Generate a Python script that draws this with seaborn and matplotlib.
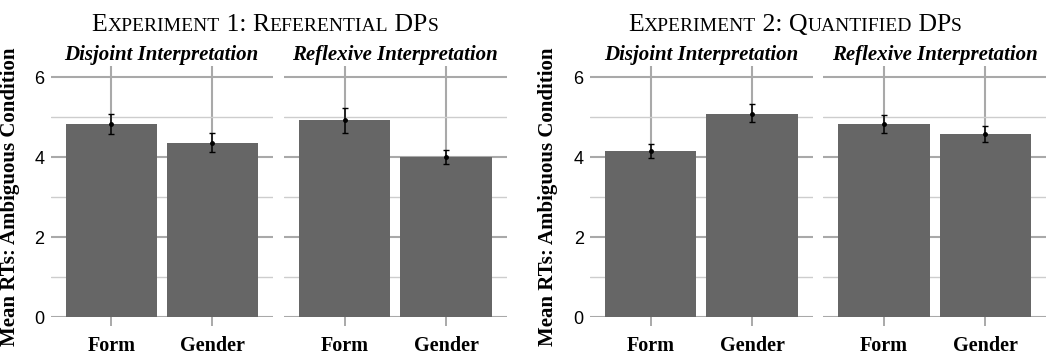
import numpy as np
import pandas as pd
import matplotlib
matplotlib.use('Agg')
import matplotlib.pyplot as plt
from matplotlib.ticker import MultipleLocator
import seaborn as sns

# values
cues = ['Form', 'Gender']
interpretations = ['Disjoint Interpretation', 'Reflexive Interpretation']
experiments = ['Experiment 1', 'Experiment 2']
# means per experiment, interpretation, cue
exp1_disjoint = [4.82, 4.36]
exp1_reflexive = [4.92, 4.01]
exp2_disjoint = [4.15, 5.08]
exp2_reflexive = [4.82, 4.57]
# error bar ends
exp1_disjoint_lo = [4.57, 4.13]
exp1_disjoint_hi = [5.08, 4.60]
exp1_reflexive_lo = [4.61, 3.82]
exp1_reflexive_hi = [5.23, 4.19]
exp2_disjoint_lo = [3.98, 4.87]
exp2_disjoint_hi = [4.32, 5.32]
exp2_reflexive_lo = [4.61, 4.37]
exp2_reflexive_hi = [5.05, 4.79]
yticks_major = [0, 2, 4, 6]

rows = []
for exp, interp, means, lo, hi in [
        (experiments[0], interpretations[0], exp1_disjoint, exp1_disjoint_lo, exp1_disjoint_hi),
        (experiments[0], interpretations[1], exp1_reflexive, exp1_reflexive_lo, exp1_reflexive_hi),
        (experiments[1], interpretations[0], exp2_disjoint, exp2_disjoint_lo, exp2_disjoint_hi),
        (experiments[1], interpretations[1], exp2_reflexive, exp2_reflexive_lo, exp2_reflexive_hi)]:
  for c, m, l, h in zip(cues, means, lo, hi):
    rows.append({'experiment': exp, 'interp': interp, 'cue': c, 'rt': m, 'lo': l, 'hi': h})
df = pd.DataFrame(rows)

sns.set_style('white')
grid_major = '#a9a9a9'
grid_minor = '#cdcdcd'
plt.rcParams['font.family'] = ['Liberation Serif', 'DejaVu Serif']
plt.rcParams['text.color'] = 'black'
plt.rcParams['xtick.color'] = grid_major
plt.rcParams['xtick.labelcolor'] = 'black'
plt.rcParams['ytick.color'] = 'black'
plt.rcParams['xtick.bottom'] = True
plt.rcParams['xtick.major.size'] = 6.5
plt.rcParams['xtick.major.width'] = 1.4
plt.rcParams['xtick.major.pad'] = 7

W, H = 1050, 357
fig = plt.figure(figsize=(W / 100, H / 100), dpi=100)

# panel boxes in pixels (left, right)
panel_px = [(50.7, 272.7), (284, 506.7), (590, 812.7), (823.3, 1046)]
top_px, bottom_px = 66, 317.3

k = 0
for e, exp in enumerate(experiments):
  for i, interp in enumerate(interpretations):
    l, r = panel_px[k]
    ax = fig.add_axes([l / W, 1 - bottom_px / H, (r - l) / W, (bottom_px - top_px) / H])
    sub = df[(df['experiment'] == exp) & (df['interp'] == interp)]
    sns.barplot(data=sub, x='cue', y='rt', order=cues, color='#666666', saturation=1,
                errorbar=None, width=0.9, linewidth=0, ax=ax, zorder=2)
    xs = np.arange(len(cues))
    ax.errorbar(xs, sub['rt'].values,
                yerr=[sub['rt'].values - sub['lo'].values, sub['hi'].values - sub['rt'].values],
                fmt='o', ms=2.5, color='black', ecolor='black', elinewidth=1.1,
                capsize=2, capthick=1.0, zorder=4)
    ax.set_xlim(-0.6, 1.6)
    ax.set_ylim(0, 6.28)
    ax.set_yticks(yticks_major)
    ax.yaxis.set_minor_locator(MultipleLocator(1))
    ax.set_axisbelow(True)
    ax.grid(which='major', axis='y', color=grid_major, lw=1.5)
    ax.grid(which='minor', axis='y', color=grid_minor, lw=1.0)
    ax.grid(which='major', axis='x', color=grid_major, lw=1.5)
    for s in ax.spines.values():
      s.set_visible(False)
    ax.set_xlabel('')
    ax.set_ylabel('')
    ax.tick_params(axis='x', which='major', bottom=True, length=6.5, width=1.4, color=grid_major,
                   labelcolor='black', pad=7, labelsize=14.5)
    for t in ax.get_xticklabels():
      t.set_fontweight('bold')
    ax.tick_params(axis='y', which='both', left=False, length=0, pad=4.5, labelcolor='black')
    if i == 0:
      for t in ax.get_yticklabels():
        t.set_fontfamily('Liberation Sans')
        t.set_fontsize(13)
    else:
      ax.tick_params(axis='y', labelleft=False)
    ax.set_title(interp, fontsize=15, fontweight='bold', fontstyle='italic', pad=4, color='black')
    k += 1

# y labels
for xpx in [10, 548]:
  fig.text(xpx / W, 1 - 197 / H, 'Mean RTs: Ambiguous Condition', rotation=90,
           ha='center', va='center', fontsize=15, fontweight='bold')

# small caps titles
def small_caps(pieces, cx, base_y):
  renderer = fig.canvas.get_renderer()
  texts = []
  for s, size in pieces:
    t = fig.text(0, base_y / H, s, fontsize=size, va='baseline', ha='left')
    texts.append(t)
  widths = [t.get_window_extent(renderer).width for t in texts]
  total = sum(widths)
  x = cx - total / 2
  for t, w in zip(texts, widths):
    t.set_x(x / W)
    x += w

small_caps([('E', 18.5), ('XPERIMENT', 14), (' 1: R', 18.5), ('EFERENTIAL', 14), (' DP', 18.5), ('S', 14)],
           265, H - 31)
small_caps([('E', 18.5), ('XPERIMENT', 14), (' 2: Q', 18.5), ('UANTIFIED', 14), (' DP', 18.5), ('S', 14)],
           795, H - 31)

fig.savefig('out.png', dpi=100)
